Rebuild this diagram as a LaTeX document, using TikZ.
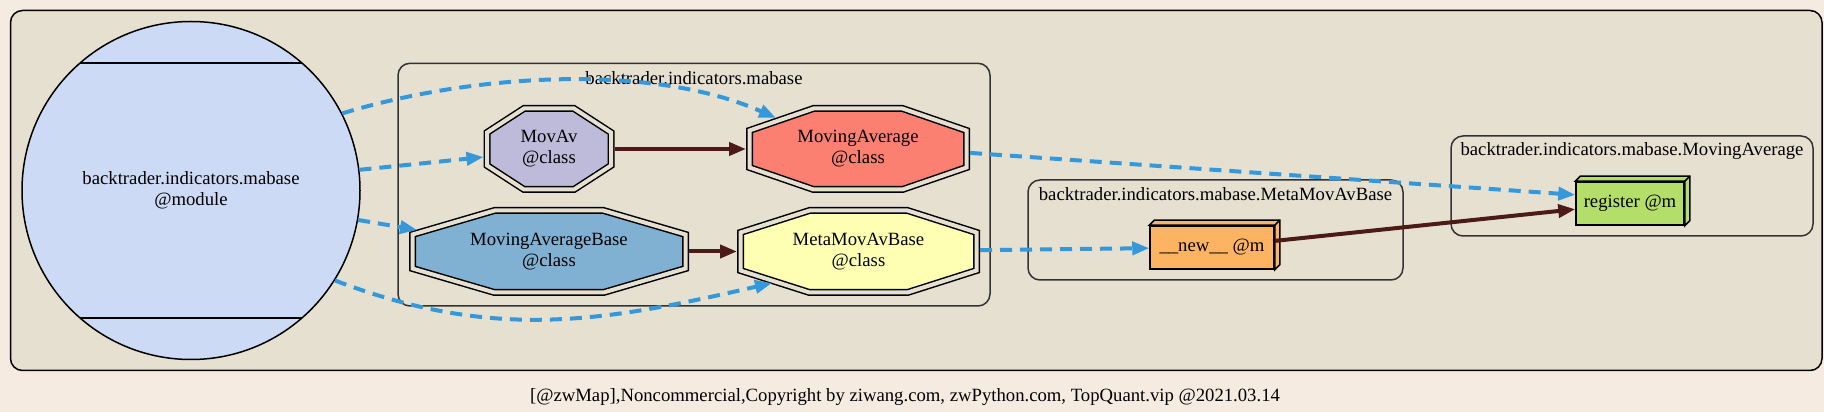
\documentclass[tikz,border=0pt]{standalone}
\usepackage{fontspec}
\setmainfont{Liberation Serif}
\usetikzlibrary{arrows.meta,calc}
\definecolor{pagebg}{RGB}{245,235,224}
\definecolor{framebg}{RGB}{230,224,208}
\definecolor{modfill}{RGB}{205,218,245}
\definecolor{movavfill}{HTML}{BEBADA}
\definecolor{mafill}{HTML}{FB8072}
\definecolor{mabfill}{HTML}{80B1D3}
\definecolor{mmabfill}{HTML}{FFFFB3}
\definecolor{newfill}{HTML}{FDB462}
\definecolor{regfill}{HTML}{B3DE69}
\definecolor{linkblue}{RGB}{52,152,219}
\definecolor{linkbrown}{RGB}{77,26,26}
\tikzset{%
	cluster/.style  = {draw=black!80, line width=1.5pt, rounded corners=12pt},
	modnode/.style  = {draw, circle, line width=1.5pt, fill=modfill, minimum size=338pt, inner sep=0pt, align=center},
	octline/.style  = {draw, line width=1.5pt, double=framebg, double distance=4pt},
	klass/.style    = {rectangle, inner sep=0pt, outer sep=0pt, align=center},
	method/.style   = {draw, rectangle, line width=1.5pt, minimum height=43pt, inner sep=0pt, text centered},
	uses/.style     = {line width=4pt, draw=linkblue, dash pattern=on 12pt off 8pt, -{Triangle[length=17pt,width=13pt]}},
	inherit/.style  = {line width=4pt, draw=linkbrown, -{Triangle[length=17pt,width=13pt]}},
}
% name, centre, half width, half height, cut x, cut y, fill, text
\newcommand{\classnode}[8]{%
	\begin{scope}[shift={(#2)}]
		\draw[octline, fill=#7] (-#3+#5,#4) -- (#3-#5,#4) -- (#3,#4-#6) -- (#3,-#4+#6) -- (#3-#5,-#4) -- (-#3+#5,-#4) -- (-#3,-#4+#6) -- (-#3,#4-#6) -- cycle;
	\end{scope}
	\node[klass, minimum width=2*#3pt+7pt, minimum height=2*#4pt+7pt] (#1) at (#2) {#8};
}
\begin{document}
\begin{tikzpicture}[x=1pt,y=1pt,font=\fontsize{18.7}{21}\selectfont]
	\useasboundingbox[fill=pagebg] (0,0) rectangle (1824,412);
	\draw[fill=framebg, line width=1.5pt, rounded corners=12pt] (10.5,41.5) rectangle (1822,401.5);
	
	% clusters
	\draw[cluster] (398,106) rectangle (990,348.7);
	\node (lblpkg) at (694,334) {backtrader.indicators.mabase};
	\draw[cluster] (1028,132) rectangle (1403,232);
	\node (lblmeta) at (1215.5,218) {backtrader.indicators.mabase.MetaMovAvBase};
	\draw[cluster] (1451,176) rectangle (1813,276);
	\node (lblma) at (1632,261) {backtrader.indicators.mabase.MovingAverage};
	
	% module
	\node[modnode] (mod) at (191,221.5) {backtrader.indicators.mabase\\@module};
	\draw[line width=1.5pt] ($(mod.center)+(-111,127.5)$) -- ++(222,0);
	\draw[line width=1.5pt] ($(mod.center)+(-111,-127.5)$) -- ++(222,0);
	
	% classes
	\classnode{movav}{549,263}{62}{40.5}{37}{24}{movavfill}{MovAv\\@class}
	\classnode{ma}{858,263}{108.5}{40.5}{64}{22}{mafill}{MovingAverage\\@class}
	\classnode{mab}{549,160.5}{136.5}{41}{82}{24}{mabfill}{MovingAverageBase\\@class}
	\classnode{mmab}{858.5,160.5}{118}{41}{69}{22}{mmabfill}{MetaMovAvBase\\@class}
	
	% methods
	\node[method, fill=newfill, minimum width=124pt] (new) at (1212,164.5) {\_\_new\_\_ @m};
	\draw[line width=1.5pt, fill=newfill] (new.north west) -- ++(5,5) -| ($(new.south east)+(5,5)$) -- (new.south east) -- (new.north east) -- cycle;
	\draw[line width=1.5pt] (new.north east) -- ++(5,5);
	\node[method, fill=regfill, minimum width=108pt] (reg) at (1630,208.5) {register @m};
	\draw[line width=1.5pt, fill=regfill] (reg.north west) -- ++(5,5) -| ($(reg.south east)+(5,5)$) -- (reg.south east) -- (reg.north east) -- cycle;
	\draw[line width=1.5pt] (reg.north east) -- ++(5,5);
	
	% links
	\draw[uses] (mod.27) to[out=17,in=156,looseness=0.8] ($(ma.center)+(-82,31)$);
	\draw[uses] (mod.7) -- (movav.187);
	\draw[uses] (mod.-10) -- ($(mab.center)+(-132,21.5)$);
	\draw[uses] (mod.-32) to[out=-21,in=193] ($(mmab.center)+(-86.5,-31.5)$);
	\draw[inherit] (movav) -- (ma);
	\draw[inherit] (mab) -- (mmab);
	\draw[uses] (ma.-2) -- (reg.171);
	\draw[uses] (mmab) -- (new);
	\draw[inherit] (new) -- (reg);
	
	\node (caption) at (905,15) {[@zwMap],Noncommercial,Copyright by ziwang.com, zwPython.com, TopQuant.vip @2021.03.14};
\end{tikzpicture}
\end{document}
